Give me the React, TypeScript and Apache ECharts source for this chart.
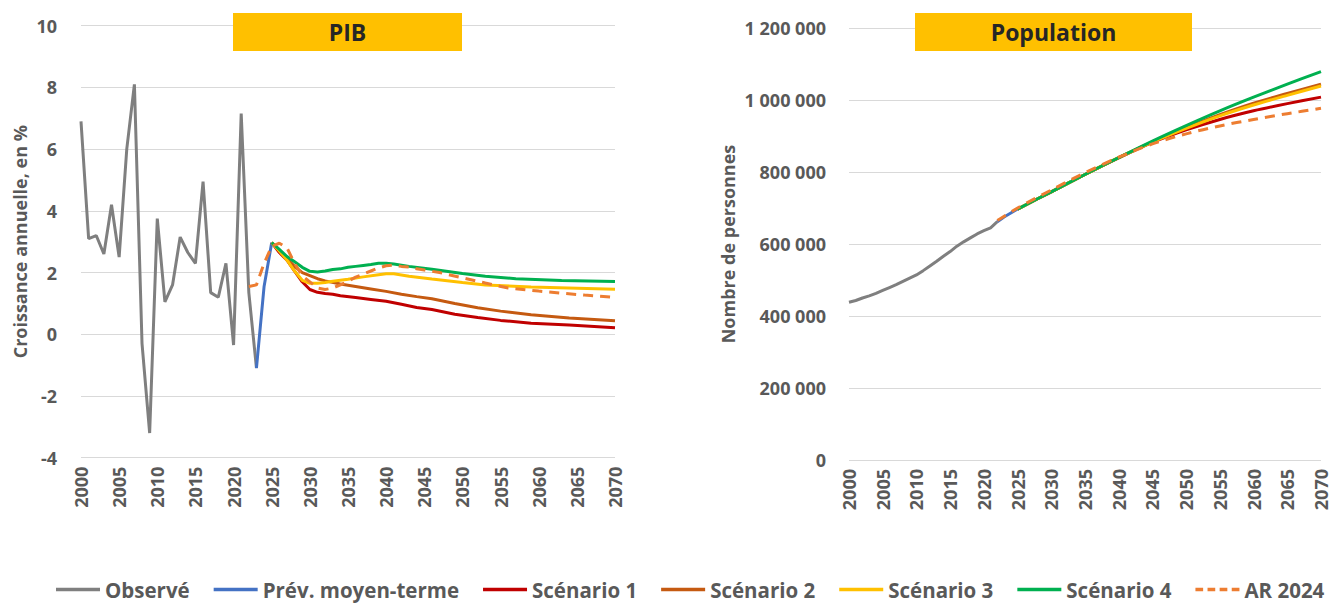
import React, { useEffect, useRef } from "react";
import * as echarts from "echarts";

// ---------- PIB (annual growth, %) ----------
const gdpObsYears = [2000, 2001, 2002, 2003, 2004, 2005, 2006, 2007, 2008, 2009, 2010, 2011, 2012, 2013, 2014, 2015, 2016, 2017, 2018, 2019, 2020, 2021, 2022, 2023];
const gdpObserved = [6.9, 3.1, 3.2, 2.6, 4.2, 2.5, 6.0, 8.1, -0.3, -3.2, 3.75, 1.05, 1.6, 3.15, 2.65, 2.3, 4.95, 1.35, 1.2, 2.3, -0.35, 7.15, 1.35, -1.1];

const gdpPrevYears = [2023, 2024, 2025];
const gdpPrev = [-1.1, 1.55, 2.97];

const gdpS1Years = [2025, 2026, 2027, 2028, 2029, 2030, 2031, 2032, 2033, 2034, 2036, 2038, 2040, 2042, 2044, 2046, 2049, 2052, 2055, 2059, 2064, 2070];
const gdpS1 = [2.97, 2.65, 2.4, 2.05, 1.7, 1.45, 1.36, 1.32, 1.3, 1.25, 1.19, 1.13, 1.07, 0.97, 0.87, 0.8, 0.65, 0.54, 0.45, 0.36, 0.3, 0.21];

const gdpS2Years = [2025, 2026, 2027, 2028, 2029, 2030, 2031, 2032, 2034, 2036, 2038, 2040, 2042, 2044, 2046, 2049, 2052, 2055, 2059, 2064, 2070];
const gdpS2 = [2.97, 2.7, 2.45, 2.2, 2.0, 1.9, 1.8, 1.73, 1.63, 1.55, 1.47, 1.39, 1.3, 1.22, 1.15, 1.0, 0.86, 0.75, 0.63, 0.53, 0.44];

const gdpS3Years = [2025, 2026, 2027, 2028, 2029, 2030, 2031, 2032, 2033, 2035, 2037, 2039, 2040, 2041, 2043, 2046, 2050, 2053, 2059, 2070];
const gdpS3 = [2.97, 2.7, 2.4, 2.05, 1.75, 1.65, 1.65, 1.68, 1.72, 1.78, 1.86, 1.93, 1.96, 1.96, 1.88, 1.79, 1.68, 1.6, 1.53, 1.46];

const gdpS4Years = [2025, 2026, 2027, 2028, 2029, 2030, 2031, 2032, 2033, 2034, 2035, 2036, 2037, 2038, 2039, 2040, 2041, 2043, 2046, 2050, 2053, 2057, 2063, 2070];
const gdpS4 = [2.97, 2.75, 2.52, 2.35, 2.17, 2.04, 2.02, 2.05, 2.1, 2.12, 2.17, 2.2, 2.23, 2.26, 2.3, 2.3, 2.28, 2.2, 2.11, 1.97, 1.88, 1.8, 1.74, 1.71];

const gdpARYears = [2022, 2023, 2024, 2025, 2026, 2027, 2028, 2029, 2030, 2031, 2032, 2033, 2034, 2035, 2036, 2037, 2038, 2039, 2040, 2041, 2042, 2043, 2044, 2045, 2047, 2050, 2053, 2056, 2060, 2063, 2066, 2070];
const gdpAR = [1.55, 1.6, 2.3, 2.85, 2.95, 2.8, 2.3, 1.9, 1.7, 1.5, 1.45, 1.5, 1.6, 1.72, 1.85, 1.95, 2.05, 2.15, 2.22, 2.24, 2.2, 2.18, 2.12, 2.08, 2.0, 1.83, 1.66, 1.5, 1.4, 1.33, 1.27, 1.2];

// ---------- Population ----------
const popObsYears = [2000, 2001, 2002, 2003, 2004, 2005, 2006, 2007, 2008, 2009, 2010, 2011, 2012, 2013, 2014, 2015, 2016, 2017, 2018, 2019, 2020, 2021, 2022];
const popObserved = [438000, 443000, 450000, 456000, 463000, 471000, 479000, 487000, 496000, 505000, 514000, 526000, 539000, 552000, 566000, 579000, 594000, 606000, 617000, 628000, 637000, 645000, 662000];

const popPrevYears = [2022, 2023, 2024, 2025];
const popPrev = [662000, 675000, 686000, 697000];

const popScenYears = [2025, 2030, 2035, 2040, 2045, 2050, 2055, 2060, 2065, 2070];
const popS1 = [697000, 745000, 793000, 839000, 882000, 917000, 946000, 970000, 990000, 1008000];
const popS2 = [697000, 745000, 793000, 840000, 884000, 923000, 959000, 991000, 1018000, 1044000];
const popS3 = [697000, 745000, 793000, 840000, 883000, 921000, 956000, 986000, 1013000, 1039000];
const popS4 = [697000, 745000, 793000, 840000, 886000, 929000, 970000, 1008000, 1044000, 1079000];

const popARYears = [2022, 2025, 2030, 2035, 2040, 2045, 2050, 2055, 2060, 2065, 2070];
const popAR = [665000, 700000, 750000, 798000, 841000, 878000, 906000, 928000, 946000, 962000, 977000];

const seriesNames = ["Observé", "Prév. moyen-terme", "Scénario 1", "Scénario 2", "Scénario 3", "Scénario 4", "AR 2024"];
const seriesColors = ["#7F7F7F", "#4472C4", "#C00000", "#C55A11", "#FFC000", "#00B050", "#ED7D31"];

const pairs = (xs: number[], ys: number[]) => xs.map((x, i) => [x, ys[i]]);

const FONT = "'Open Sans', 'Noto Sans', sans-serif";
const LABEL = "#595959";
const GRIDC = "#D9D9D9";
const DASH_ICON = "path://M0,0H7V3H0Z M11,0H18V3H11Z M22,0H29V3H22Z M33,0H40V3H33Z";

const spaceThousands = (v: number) => String(v).replace(/\B(?=(\d{3})+(?!\d))/g, " ");

export default function App() {
  const ref = useRef<HTMLDivElement>(null);

  useEffect(() => {
    if (!ref.current) return;
    const chart = echarts.init(ref.current, undefined, { renderer: "svg" });

    const xAxisBase = (gridIndex: number) => ({
      type: "value",
      gridIndex,
      min: 2000,
      max: 2070,
      interval: 5,
      axisLine: { show: false },
      axisTick: { show: false },
      splitLine: { show: false },
      axisLabel: {
        rotate: 90,
        margin: 9,
        color: LABEL,
        fontSize: 18,
        fontWeight: "bold",
        fontFamily: FONT,
        formatter: (v: number) => String(v),
      },
    });

    const mk = (name: string, idx: number, data: number[][], axis: number, extra: any = {}) => ({
      name,
      type: "line",
      xAxisIndex: axis,
      yAxisIndex: axis,
      data,
      symbol: "none",
      smooth: false,
      lineStyle: { color: seriesColors[idx], width: 3, ...(extra.lineStyle || {}) },
      itemStyle: { color: seriesColors[idx] },
      z: 2 + idx,
    });

    const dashed = { lineStyle: { type: [10, 7], width: 3 } };

    const option: any = {
      animation: false,
      backgroundColor: "#FFFFFF",
      textStyle: { fontFamily: FONT },
      grid: [
        { left: 81, right: 716, top: 25.7, bottom: 146.3 },
        { left: 849, right: 10, top: 28, bottom: 144 },
      ],
      xAxis: [xAxisBase(0), xAxisBase(1)],
      yAxis: [
        {
          type: "value",
          gridIndex: 0,
          min: -4,
          max: 10,
          interval: 2,
          name: "Croissance annuelle, en %",
          nameLocation: "middle",
          nameGap: 52,
          nameTextStyle: { color: LABEL, fontSize: 18, fontWeight: "bold", fontFamily: FONT },
          axisLine: { show: false },
          axisTick: { show: false },
          splitLine: { show: true, lineStyle: { color: GRIDC, width: 1 } },
          axisLabel: { margin: 24, color: LABEL, fontSize: 18, fontWeight: "bold", fontFamily: FONT },
        },
        {
          type: "value",
          gridIndex: 1,
          min: 0,
          max: 1200000,
          interval: 200000,
          name: "Nombre de personnes",
          nameLocation: "middle",
          nameGap: 112,
          nameTextStyle: { color: LABEL, fontSize: 18, fontWeight: "bold", fontFamily: FONT },
          axisLine: { show: false },
          axisTick: { show: false },
          splitLine: { show: true, lineStyle: { color: GRIDC, width: 1 } },
          axisLabel: {
            margin: 23,
            color: LABEL,
            fontSize: 18,
            fontWeight: "bold",
            fontFamily: FONT,
            formatter: (v: number) => spaceThousands(v),
          },
        },
      ],
      legend: {
        data: seriesNames.map((n, i) => ({ name: n, icon: i === 6 ? DASH_ICON : "rect" })),
        left: 56,
        top: 579,
        padding: 0,
        itemWidth: 44,
        itemHeight: 3.5,
        itemGap: 24,
        textStyle: { color: LABEL, fontSize: 20.5, fontWeight: "bold", fontFamily: FONT },
      },
      series: [
        mk(seriesNames[0], 0, pairs(gdpObsYears, gdpObserved), 0),
        mk(seriesNames[1], 1, pairs(gdpPrevYears, gdpPrev), 0),
        mk(seriesNames[2], 2, pairs(gdpS1Years, gdpS1), 0),
        mk(seriesNames[3], 3, pairs(gdpS2Years, gdpS2), 0),
        mk(seriesNames[4], 4, pairs(gdpS3Years, gdpS3), 0),
        mk(seriesNames[5], 5, pairs(gdpS4Years, gdpS4), 0),
        mk(seriesNames[6], 6, pairs(gdpARYears, gdpAR), 0, dashed),
        mk(seriesNames[0], 0, pairs(popObsYears, popObserved), 1),
        mk(seriesNames[1], 1, pairs(popPrevYears, popPrev), 1),
        { ...mk(seriesNames[2], 2, pairs(popScenYears, popS1), 1), smooth: 0.3 },
        { ...mk(seriesNames[3], 3, pairs(popScenYears, popS2), 1), smooth: 0.3 },
        { ...mk(seriesNames[4], 4, pairs(popScenYears, popS3), 1), smooth: 0.3 },
        { ...mk(seriesNames[5], 5, pairs(popScenYears, popS4), 1), smooth: 0.3 },
        { ...mk(seriesNames[6], 6, pairs(popARYears, popAR), 1, dashed), smooth: 0.3 },
      ],
      graphic: [
        {
          type: "rect",
          z: 100,
          shape: { x: 233, y: 13, width: 229, height: 38 },
          style: { fill: "#FFC000" },
        },
        {
          type: "text",
          z: 101,
          x: 347.5,
          y: 32,
          style: {
            text: "PIB",
            fill: "#262626",
            fontSize: 23,
            fontWeight: "bold",
            fontFamily: FONT,
            align: "center",
            verticalAlign: "middle",
          },
        },
        {
          type: "rect",
          z: 100,
          shape: { x: 915, y: 13, width: 277, height: 38 },
          style: { fill: "#FFC000" },
        },
        {
          type: "text",
          z: 101,
          x: 1053.5,
          y: 32,
          style: {
            text: "Population",
            fill: "#262626",
            fontSize: 23,
            fontWeight: "bold",
            fontFamily: FONT,
            align: "center",
            verticalAlign: "middle",
          },
        },
      ],
    };

    chart.setOption(option);
    return () => chart.dispose();
  }, []);

  return (
    <div
      ref={ref}
      style={{ position: "fixed", left: 0, top: 0, width: 1331, height: 604, background: "#fff" }}
    />
  );
}
